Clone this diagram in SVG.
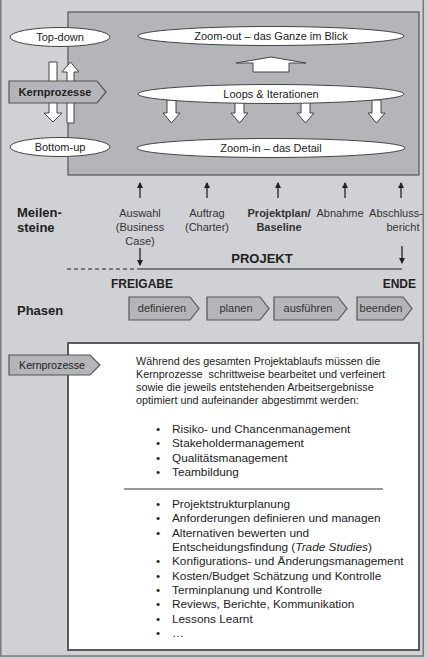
<svg xmlns="http://www.w3.org/2000/svg" width="427" height="659" viewBox="0 0 427 659">
<defs>
<style>
text{font-family:"Liberation Sans",Arial,sans-serif;fill:#222}
.ell{fill:#fff;stroke:#444;stroke-width:1}
.el{font-size:11px;text-anchor:middle}
.wa{fill:#fff;stroke:#444;stroke-width:1}
.ga{fill:#b4b5b8;stroke:#555;stroke-width:1.2}
.ms{font-size:11px;text-anchor:middle;fill:#333}
.bold{font-weight:bold}
.ph{font-size:11px;text-anchor:middle;fill:#333}
.p{font-size:10.8px}
.b{font-size:11.8px}
.conn{stroke:#222;stroke-width:1.3;fill:none}
</style>
<marker id="ah" viewBox="0 0 6 6" refX="5" refY="3" markerWidth="6" markerHeight="6" markerUnits="userSpaceOnUse" orient="auto">
<path d="M0,0 L6,3 L0,6 Z" fill="#222"/>
</marker>
</defs>
<rect x="0" y="0" width="427" height="659" fill="#d0d1d4"/>
<rect x="0.75" y="-2" width="422.5" height="658" fill="none" stroke="#7a7a7a" stroke-width="1.5"/>

<g id="mainbox"><rect x="68" y="12" width="351" height="163" fill="#b4b5b8" stroke="#555" stroke-width="1.2"/></g>

<g id="connectors">
<polygon class="wa" points="49,62 57,62 57,113 62,113 53,122 44,113 49,113"/>
<polygon class="wa" points="67,123 74,123 74,72 79,72 70.5,62 62,72 67,72"/>
<polygon class="wa" points="236,63 271,57 306,63 289,63 289,72 253,72 253,63"/>
<polygon class="wa" points="167,100 176,100 176,113 180,113 171.5,123 163,113 167,113"/>
<polygon class="wa" points="235,100 244,100 244,113 248,113 239.5,123 231,113 235,113"/>
<polygon class="wa" points="301,100 310,100 310,113 314,113 305.5,123 297,113 301,113"/>
<polygon class="wa" points="372,100 381,100 381,113 385,113 376.5,123 368,113 372,113"/>
<line class="conn" x1="140" y1="198" x2="140" y2="183" marker-end="url(#ah)"/>
<line class="conn" x1="207" y1="198" x2="207" y2="183" marker-end="url(#ah)"/>
<line class="conn" x1="278" y1="198" x2="278" y2="183" marker-end="url(#ah)"/>
<line class="conn" x1="345" y1="198" x2="345" y2="183" marker-end="url(#ah)"/>
<line class="conn" x1="401" y1="198" x2="401" y2="183" marker-end="url(#ah)"/>
<line class="conn" x1="140" y1="248" x2="140" y2="265" marker-end="url(#ah)"/>
<line class="conn" x1="402" y1="246" x2="402" y2="263" marker-end="url(#ah)"/>
<line x1="67" y1="269" x2="137" y2="269" stroke="#222" stroke-width="1" stroke-dasharray="4,3"/>
<line x1="137" y1="269" x2="402" y2="269" stroke="#222" stroke-width="1"/>
</g>

<g id="topdown"><ellipse class="ell" cx="60" cy="37" rx="50" ry="9.5"/><text class="el" x="60" y="41">Top-down</text></g>
<g id="bottomup"><ellipse class="ell" cx="60" cy="147" rx="50" ry="9.5"/><text class="el" x="60" y="151">Bottom-up</text></g>
<g id="kern1"><polygon class="ga" points="9,81 97,81 106,92 97,103 9,103"/><text class="el bold" x="55" y="96">Kernprozesse</text></g>
<g id="zoomout"><ellipse class="ell" cx="271" cy="36" rx="133" ry="9.5"/><text class="el" x="271" y="40">Zoom-out – das Ganze im Blick</text></g>
<g id="loops"><ellipse class="ell" cx="271" cy="94" rx="133" ry="9.5"/><text class="el" x="271" y="98">Loops &amp; Iterationen</text></g>
<g id="zoomin"><ellipse class="ell" cx="271" cy="148" rx="134" ry="9.5"/><text class="el" x="271" y="152">Zoom-in – das Detail</text></g>

<g id="meilensteine"><text class="bold" x="17" y="216.5" font-size="13">Meilen-</text><text class="bold" x="17" y="231.5" font-size="13">steine</text></g>
<g id="ms1"><text class="ms" x="140" y="217">Auswahl</text><text class="ms" x="140" y="231">(Business</text><text class="ms" x="140" y="245">Case)</text></g>
<g id="ms2"><text class="ms" x="207" y="217">Auftrag</text><text class="ms" x="207" y="231">(Charter)</text></g>
<g id="ms3"><text class="ms bold" x="279" y="217">Projektplan/</text><text class="ms bold" x="279" y="231">Baseline</text></g>
<g id="ms4"><text class="ms" x="340" y="217">Abnahme</text></g>
<g id="ms5"><text class="ms" x="396" y="217">Abschluss-</text><text class="ms" x="403" y="231">bericht</text></g>

<g id="projekt"><text class="bold" x="262" y="263" font-size="13" text-anchor="middle">PROJEKT</text></g>
<g id="freigabe"><text class="bold" x="142" y="287.5" font-size="12" text-anchor="middle">FREIGABE</text></g>
<g id="ende"><text class="bold" x="416" y="287.5" font-size="12" text-anchor="end">ENDE</text></g>

<g id="phasen"><text class="bold" x="17" y="315" font-size="13">Phasen</text></g>
<g id="definieren"><polygon class="ga" points="129,297 190,297 199,308.5 190,320 129,320"/><text class="ph" x="162" y="312">definieren</text></g>
<g id="planen"><polygon class="ga" points="207,297 260,297 269,308.5 260,320 207,320"/><text class="ph" x="236" y="312">planen</text></g>
<g id="ausfuehren"><polygon class="ga" points="274,297 338,297 347,308.5 338,320 274,320"/><text class="ph" x="308" y="312">ausführen</text></g>
<g id="beenden"><polygon class="ga" points="357,297 403,297 412,308.5 403,320 357,320"/><text class="ph" x="381" y="312">beenden</text></g>

<g id="detailbox">
<rect x="68" y="343" width="351" height="307" fill="#fff" stroke="#5a5a5a" stroke-width="2"/>
<text class="p" x="136" y="365">Während des gesamten Projektablaufs müssen die</text>
<text class="p" x="136" y="378" style="white-space:pre">Kernprozesse  schrittweise bearbeitet und verfeinert</text>
<text class="p" x="136" y="391">sowie die jeweils entstehenden Arbeitsergebnisse</text>
<text class="p" x="136" y="404">optimiert und aufeinander abgestimmt werden:</text>
<g class="b">
<text class="b" x="156" y="433">•</text><text class="b" x="172" y="433">Risiko- und Chancenmanagement</text>
<text class="b" x="156" y="447.3">•</text><text class="b" x="172" y="447.3">Stakeholdermanagement</text>
<text class="b" x="156" y="461.6">•</text><text class="b" x="172" y="461.6">Qualitätsmanagement</text>
<text class="b" x="156" y="476">•</text><text class="b" x="172" y="476">Teambildung</text>
</g>
<line x1="124" y1="489" x2="383" y2="489" stroke="#333" stroke-width="1"/>
<text class="b" x="156" y="508">•</text><text class="b" x="172" y="508">Projektstrukturplanung</text>
<text class="b" x="156" y="522.3">•</text><text class="b" x="172" y="522.3">Anforderungen definieren und managen</text>
<text class="b" x="156" y="536.6">•</text><text class="b" x="172" y="536.6">Alternativen bewerten und</text>
<text class="b" x="172" y="551">Entscheidungsfindung (<tspan font-style="italic">Trade Studies</tspan>)</text>
<text class="b" x="156" y="565.3">•</text><text class="b" x="172" y="565.3">Konfigurations- und Änderungsmanagement</text>
<text class="b" x="156" y="579.6">•</text><text class="b" x="172" y="579.6">Kosten/Budget Schätzung und Kontrolle</text>
<text class="b" x="156" y="594">•</text><text class="b" x="172" y="594">Terminplanung und Kontrolle</text>
<text class="b" x="156" y="608.3">•</text><text class="b" x="172" y="608.3">Reviews, Berichte, Kommunikation</text>
<text class="b" x="156" y="622.6">•</text><text class="b" x="172" y="622.6">Lessons Learnt</text>
<text class="b" x="156" y="637">•</text><text class="b" x="172" y="637">…</text>
</g>
<g id="kern2"><polygon class="ga" points="9,355 90,355 100,365 90,375 9,375"/><text x="52" y="369" font-size="10.7" text-anchor="middle">Kernprozesse</text></g>
</svg>
